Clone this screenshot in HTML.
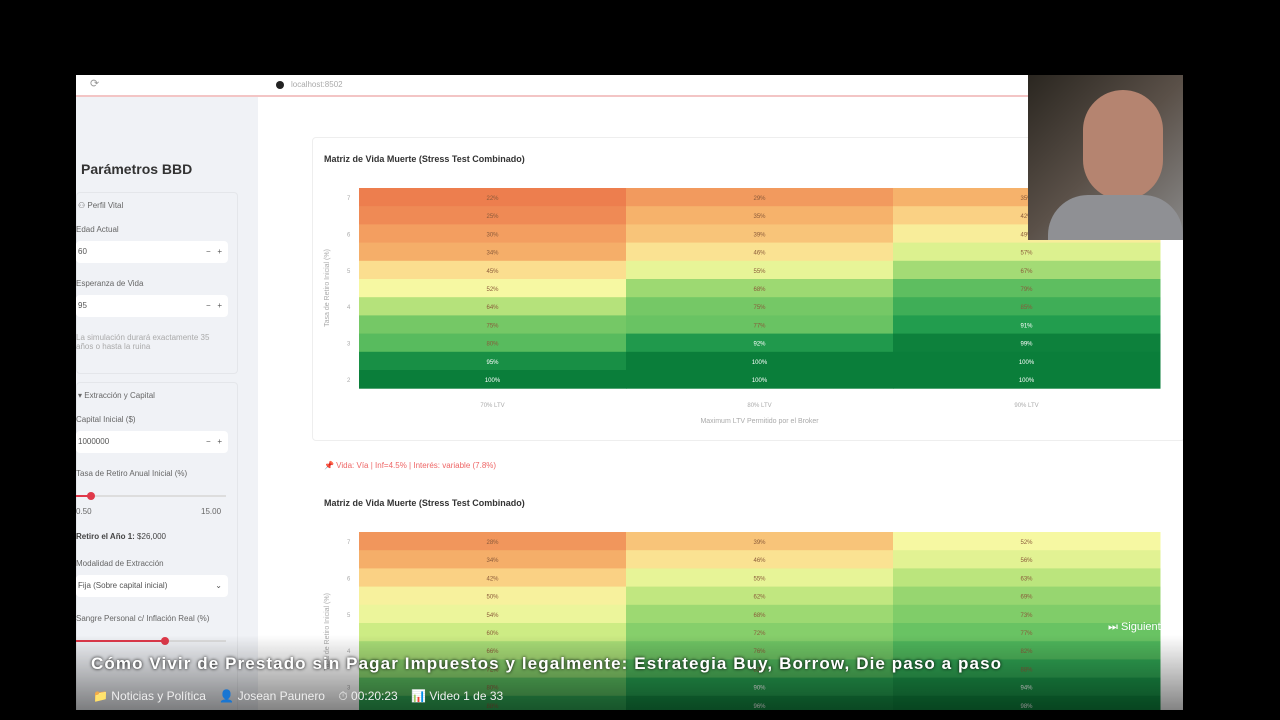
<!DOCTYPE html>
<html><head><meta charset="utf-8">
<style>
body{margin:0;width:1280px;height:720px;background:#000;position:relative;overflow:hidden;font-family:"Liberation Sans",sans-serif}
.abs{position:absolute}
#browser{left:76px;top:75px;width:1107px;height:635px;background:#fff;overflow:hidden}
#bar{left:0;top:0;width:1107px;height:20px;background:#fff;border-bottom:2px solid #f3c5c5}
#side{left:0;top:22px;width:182px;height:613px;background:#f0f2f6}
.lbl{font-size:8px;color:#666}
.inp{background:#fff;border-radius:4px;height:22px;font-size:8px;color:#555;line-height:22px;padding-left:2px}
#overlay{left:0;top:635px;width:1280px;height:85px;background:linear-gradient(rgba(0,0,0,0),rgba(0,0,0,.55))}
</style></head><body>
<div id="browser" class="abs">
 <div id="bar" class="abs">
  <span class="abs" style="left:14px;top:2px;font-size:11px;color:#999">⟳</span>
  <span class="abs" style="left:200px;top:6px;width:8px;height:8px;border-radius:50%;background:#222"></span>
  <span class="abs lbl" style="left:215px;top:5px;color:#aaa">localhost:8502</span>
 </div>
 <div id="side" class="abs">
  <div class="abs" style="left:5px;top:64px;font-size:14px;font-weight:bold;color:#333">Parámetros BBD</div>
  <div class="abs" style="left:0;top:95px;width:160px;height:180px;border:1px solid #e4e6ea;border-radius:4px"></div>
  <div class="abs lbl" style="left:2px;top:104px">⚇ Perfil Vital</div>
  <div class="abs lbl" style="left:0;top:128px">Edad Actual</div>
  <div class="abs inp" style="left:0;top:144px;width:150px">60<span style="float:right;margin-right:6px">−&nbsp;&nbsp;&nbsp;+</span></div>
  <div class="abs lbl" style="left:0;top:182px">Esperanza de Vida</div>
  <div class="abs inp" style="left:0;top:198px;width:150px">95<span style="float:right;margin-right:6px">−&nbsp;&nbsp;&nbsp;+</span></div>
  <div class="abs lbl" style="left:0;top:236px;color:#aaa;width:140px">La simulación durará exactamente 35 años o hasta la ruina</div>
  <div class="abs" style="left:0;top:285px;width:160px;height:330px;border:1px solid #e4e6ea;border-radius:4px"></div>
  <div class="abs lbl" style="left:2px;top:294px">▾ Extracción y Capital</div>
  <div class="abs lbl" style="left:0;top:318px">Capital Inicial ($)</div>
  <div class="abs inp" style="left:0;top:334px;width:150px">1000000<span style="float:right;margin-right:6px">−&nbsp;&nbsp;&nbsp;+</span></div>
  <div class="abs lbl" style="left:0;top:372px">Tasa de Retiro Anual Inicial (%)</div>
  <div class="abs" style="left:0;top:398px;width:150px;height:2px;background:#ddd"></div>
  <div class="abs" style="left:0;top:398px;width:15px;height:2px;background:#e0394a"></div>
  <div class="abs" style="left:11px;top:395px;width:8px;height:8px;border-radius:50%;background:#e0394a"></div>
  <div class="abs lbl" style="left:0;top:410px">0.50</div><div class="abs lbl" style="left:125px;top:410px">15.00</div>
  <div class="abs" style="left:0;top:435px;font-size:8px;color:#444"><b>Retiro el Año 1:</b> $26,000</div>
  <div class="abs lbl" style="left:0;top:462px">Modalidad de Extracción</div>
  <div class="abs inp" style="left:0;top:478px;width:150px">Fija (Sobre capital inicial)<span style="float:right;margin-right:6px">⌄</span></div>
  <div class="abs lbl" style="left:0;top:517px">Sangre Personal c/ Inflación Real (%)</div>
  <div class="abs" style="left:0;top:543px;width:150px;height:2px;background:#ddd"></div>
  <div class="abs" style="left:0;top:543px;width:88px;height:2px;background:#e0394a"></div>
  <div class="abs" style="left:85px;top:540px;width:8px;height:8px;border-radius:50%;background:#e0394a"></div>
 </div>
 <div class="abs" style="left:236px;top:62px;width:871px;height:302px;border:1px solid #eee;border-radius:4px"></div>
 <div class="abs" style="left:248px;top:79px;font-size:9px;font-weight:bold;color:#333">Matriz de Vida Muerte (Stress Test Combinado)</div>
 <div class="abs" style="left:248px;top:386px;font-size:8px;color:#e66">📌 Vida: Vía | Inf=4.5% | Interés: variable (7.8%)</div>
 <div class="abs" style="left:248px;top:423px;font-size:9px;font-weight:bold;color:#333">Matriz de Vida Muerte (Stress Test Combinado)</div>
 <svg class="abs" id="svg" style="left:0;top:0" width="1107" height="635"></svg>
 <div class="abs" style="left:952px;top:0;width:155px;height:165px;background:linear-gradient(135deg,#2a2620,#5a5048 50%,#8a8a8a)">
  <div class="abs" style="left:55px;top:15px;width:80px;height:110px;border-radius:40px;background:#b58470"></div>
  <div class="abs" style="left:20px;top:120px;width:135px;height:45px;border-radius:40px 40px 0 0;background:#8f9094"></div>
 </div>
</div>
<div id="overlay" class="abs"></div>
<div class="abs" style="left:1108px;top:621px;font-size:11px;color:#fff">⏭ Siguiente</div>
<div class="abs" style="left:91px;top:654px;font-size:17px;letter-spacing:1.1px;font-weight:bold;color:#fff;text-shadow:0 0 3px #000;white-space:nowrap">Cómo Vivir de Prestado sin Pagar Impuestos y legalmente: Estrategia Buy, Borrow, Die paso a paso</div>
<div class="abs" style="left:93px;top:689px;font-size:12px;color:#eee">📁 Noticias y Política &nbsp;&nbsp;&nbsp;👤 Josean Paunero &nbsp;&nbsp;&nbsp;⏱ 00:20:23 &nbsp;&nbsp;&nbsp;📊 Video 1 de 33</div>
<script>
const cols=["70% LTV","80% LTV","90% LTV"];
const rowTicks=["7","","6","","5","","4","","3","","2"];
const top1=[22,25,30,34,45,52,64,75,80,95,100];
const top2=[29,35,39,46,55,68,75,77,92,100,100];
const top3=[35,42,49,57,67,79,85,91,99,100,100];
const bot1=[28,34,42,50,54,60,66,72,80,88,95];
const bot2=[39,46,55,62,68,72,76,82,90,96,100];
const bot3=[52,56,63,69,73,77,82,88,94,98,100];
const stops=[[20,[236,118,74]],[35,[246,178,107]],[45,[251,222,143]],[52,[246,248,162]],[60,[205,236,132]],[70,[145,212,110]],[80,[88,187,94]],[90,[37,160,80]],[100,[10,126,58]]];
function col(v){for(let i=1;i<stops.length;i++){if(v<=stops[i][0]){const a=stops[i-1],b=stops[i],t=Math.max(0,(v-a[0])/(b[0]-a[0]));return 'rgb('+a[1].map((c,k)=>Math.round(c+(b[1][k]-c)*t)).join(',')+')';}}return 'rgb(10,126,58)';}
const svg=document.getElementById('svg');const NS='http://www.w3.org/2000/svg';
function el(t,a){const e=document.createElementNS(NS,t);for(const k in a)e.setAttribute(k,a[k]);svg.appendChild(e);return e;}
const x0=283,cw=267,rh=18.2;
function draw(y0,series,axis){
 series.forEach((s,c)=>s.forEach((v,r)=>{
  const rc=el('rect',{x:x0+c*cw,y:y0+r*rh,width:cw+0.5,height:rh+0.5,fill:col(v)});
  
  
  const t=el('text',{x:x0+c*cw+cw/2,y:y0+r*rh+12,'text-anchor':'middle','font-size':6,fill:v>=90?'#fff':'#8a5a3a'});
  t.textContent=v+'%';
 }));
 rowTicks.forEach((l,r)=>{const t=el('text',{x:x0-12,y:y0+r*rh+12,'font-size':6,fill:'#aaa'});t.textContent=l;});
 const yt=el('text',{x:0,y:0,'font-size':7,fill:'#aaa','text-anchor':'middle',transform:'translate('+(x0-30)+','+(y0+100)+') rotate(-90)'});yt.textContent='Tasa de Retiro Inicial (%)';
 if(axis){cols.forEach((c,i)=>{const t=el('text',{x:x0+i*cw+cw/2,y:y0+219,'font-size':6,fill:'#aaa','text-anchor':'middle'});t.textContent=c;});
 const xt=el('text',{x:x0+1.5*cw,y:y0+235,'font-size':7,fill:'#aaa','text-anchor':'middle'});xt.textContent='Maximum LTV Permitido por el Broker';}
}
draw(113,[top1,top2,top3],true);
draw(457,[bot1,bot2,bot3],false);
</script>
</body></html>
